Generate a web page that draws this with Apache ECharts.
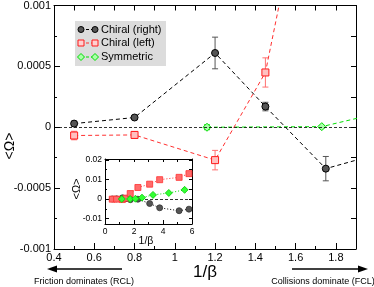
<!DOCTYPE html>
<html><head><meta charset="utf-8">
<script src="https://cdn.jsdelivr.net/npm/echarts@6/dist/echarts.min.js"></script>
<style>html,body{margin:0;padding:0;background:#fff}#c{width:374px;height:287px}</style>
</head><body><div id="c"></div>
<script>
// ---- data ----
const rightX = [0.5, 0.8, 1.2, 1.45, 1.75, 2.27, 3.08, 3.77, 5.11, 5.79];
const rightY = [0.00003, 0.00008, 0.00061, 0.00017, -0.00034, -0.0001, -0.0023, -0.0045, -0.006, -0.0052];
const rightErr = [0.00002, 0.000012, 0.00013, 0.000035, 0.0001, 0, 0, 0, 0, 0];
const leftX = [0.5, 0.8, 1.2, 1.45, 1.74, 2.27, 3.08, 3.77, 5.11, 5.79];
const leftY = [-0.000068, -0.000063, -0.00027, 0.00045, 0.0028, 0.0059, 0.0076, 0.0099, 0.0111, 0.013];
const leftErr = [0.000035, 0.000028, 0.00008, 0.00012, 0, 0, 0, 0, 0, 0];
const symX = [1.16, 1.73, 2.1, 2.55, 3.31, 4.4, 5.49];
const symY = [0, 0.000005, 0.00015, 0.0007, 0.0021, 0.0031, 0.0047];
const symErr = [0.00002, 0.00001, 0, 0, 0, 0, 0];
const mainXMajor = [0.4, 0.6, 0.8, 1.0, 1.2, 1.4, 1.6, 1.8];
const mainXMinor = [0.5, 0.7, 0.9, 1.1, 1.3, 1.5, 1.7, 1.9];
const insetYMajor = [-0.01, 0, 0.01, 0.02];
const insetYMinor = [-0.005, 0.005, 0.015];
const names = ['Chiral (right)', 'Chiral (left)', 'Symmetric'];

const FONT = 'Liberation Sans';
const pts = (xs, ys) => xs.map((x, i) => [x, ys[i]]);
const errPts = (xs, ys, es) => xs.map((x, i) => [x, ys[i], es[i]]).filter(d => d[2] > 0);

function errSeries(data, color) {
  return {
    type: 'custom', xAxisIndex: 0, yAxisIndex: 0, z: 3, silent: true,
    data: data,
    renderItem: function (params, api) {
      const x = api.value(0), y = api.value(1), e = api.value(2);
      const p1 = api.coord([x, y - e]), p2 = api.coord([x, y + e]);
      const st = {stroke: color, lineWidth: 1};
      return {type: 'group', children: [
        {type: 'line', shape: {x1: p1[0], y1: p1[1], x2: p2[0], y2: p2[1]}, style: st},
        {type: 'line', shape: {x1: p1[0] - 3, y1: p1[1], x2: p1[0] + 3, y2: p1[1]}, style: st},
        {type: 'line', shape: {x1: p2[0] - 3, y1: p2[1], x2: p2[0] + 3, y2: p2[1]}, style: st}
      ]};
    }
  };
}

const axisLineStyle = {show: true, onZero: false, lineStyle: {color: '#000', width: 1}};
const noLine = {show: false, onZero: false};
const chart = echarts.init(document.getElementById('c'), null, {renderer: 'canvas'});
const option = {
  animation: false,
  backgroundColor: '#fff',
  textStyle: {fontFamily: FONT},
  grid: [
    {left: 54, right: 18, top: 5, bottom: 38},
    {left: 105, top: 159, width: 87, height: 65, show: true, backgroundColor: '#fff', borderWidth: 0, z: 5}
  ],
  xAxis: [
    {gridIndex: 0, type: 'value', position: 'bottom', min: 0.4, max: 1.9,
     axisLine: axisLineStyle,
     axisTick: {inside: true, length: 6, customValues: mainXMajor, lineStyle: {color: '#000'}},
     axisLabel: {customValues: mainXMajor, fontSize: 11, color: '#000', margin: 3, fontFamily: FONT},
     splitLine: {show: false}},
    {gridIndex: 0, type: 'value', position: 'top', min: 0.4, max: 1.9, interval: 0.1,
     axisLine: axisLineStyle,
     axisTick: {inside: true, length: 5, lineStyle: {color: '#000'}},
     axisLabel: {show: false}, splitLine: {show: false}},
    {gridIndex: 0, type: 'value', position: 'bottom', min: 0.4, max: 1.9,
     axisLine: noLine,
     axisTick: {inside: true, length: 3, customValues: mainXMinor, lineStyle: {color: '#000'}},
     axisLabel: {show: false}, splitLine: {show: false}},
    {gridIndex: 1, type: 'value', position: 'bottom', min: 0, max: 6, interval: 2,
     axisLine: axisLineStyle,
     axisTick: {inside: true, length: 4, lineStyle: {color: '#000'}},
     minorTick: {show: true, splitNumber: 2, length: 2, lineStyle: {color: '#000'}},
     axisLabel: {fontSize: 8.5, color: '#000', margin: 3, fontFamily: FONT},
     splitLine: {show: false}, minorSplitLine: {show: false}, z: 6},
    {gridIndex: 1, type: 'value', position: 'top', min: 0, max: 6, interval: 1,
     axisLine: axisLineStyle,
     axisTick: {inside: true, length: 3, lineStyle: {color: '#000'}},
     axisLabel: {show: false}, splitLine: {show: false}, z: 6}
  ],
  yAxis: [
    {gridIndex: 0, type: 'value', position: 'left', min: -0.001, max: 0.001, interval: 0.0005,
     axisLine: axisLineStyle,
     axisTick: {inside: true, length: 6, lineStyle: {color: '#000'}},
     minorTick: {show: true, splitNumber: 2, length: 3, lineStyle: {color: '#000'}},
     axisLabel: {fontSize: 11, color: '#000', margin: 3, fontFamily: FONT},
     splitLine: {show: false}, minorSplitLine: {show: false}},
    {gridIndex: 0, type: 'value', position: 'right', min: -0.001, max: 0.001, interval: 0.00025,
     axisLine: axisLineStyle,
     axisTick: {inside: true, length: 5, lineStyle: {color: '#000'}},
     axisLabel: {show: false}, splitLine: {show: false}},
    {gridIndex: 1, type: 'value', position: 'left', min: -0.0128, max: 0.0205,
     axisLine: axisLineStyle,
     axisTick: {inside: true, length: 4, customValues: insetYMajor, lineStyle: {color: '#000'}},
     axisLabel: {customValues: insetYMajor, fontSize: 8.5, color: '#000', margin: 3, fontFamily: FONT},
     splitLine: {show: false}, z: 6},
    {gridIndex: 1, type: 'value', position: 'left', min: -0.0128, max: 0.0205,
     axisLine: noLine,
     axisTick: {inside: true, length: 2, customValues: insetYMinor, lineStyle: {color: '#000'}},
     axisLabel: {show: false}, splitLine: {show: false}, z: 6},
    {gridIndex: 1, type: 'value', position: 'right', min: -0.0128, max: 0.0205,
     axisLine: axisLineStyle,
     axisTick: {inside: true, length: 3, customValues: insetYMajor.concat(insetYMinor), lineStyle: {color: '#000'}},
     axisLabel: {show: false}, splitLine: {show: false}, z: 6}
  ],
  series: [
    errSeries(errPts(rightX, rightY, rightErr), '#555'),
    errSeries(errPts(leftX, leftY, leftErr), '#ff7070'),
    errSeries(errPts(symX, symY, symErr), '#00dd00'),
    {name: names[0], type: 'line', xAxisIndex: 0, yAxisIndex: 0, data: pts(rightX, rightY), z: 4,
     symbol: 'circle', symbolSize: 7, lineStyle: {color: '#000', width: 1, type: [4, 3]},
     itemStyle: {color: '#555', borderColor: '#000', borderWidth: 1},
     markLine: {silent: true, symbol: 'none', label: {show: false},
       lineStyle: {color: '#000', width: 0.8, type: [3, 2]}, data: [{yAxis: 0}]}},
    {name: names[1], type: 'line', xAxisIndex: 0, yAxisIndex: 0, data: pts(leftX, leftY), z: 4,
     symbol: 'rect', symbolSize: 7, lineStyle: {color: '#ff3030', width: 1, type: [4, 3]},
     itemStyle: {color: '#ffc0c0', borderColor: '#ff1a1a', borderWidth: 1}},
    {name: names[2], type: 'line', xAxisIndex: 0, yAxisIndex: 0, data: pts(symX, symY), z: 4,
     symbol: 'diamond', symbolSize: 8, lineStyle: {color: '#00dd00', width: 1, type: [4, 3]},
     itemStyle: {color: '#aaffaa', borderColor: '#00dd00', borderWidth: 1}},
    // inset
    {type: 'line', xAxisIndex: 3, yAxisIndex: 2, data: pts(rightX, rightY), z: 7,
     symbol: 'circle', symbolSize: 6, lineStyle: {color: '#000', width: 1, type: [1, 2]},
     itemStyle: {color: '#555', borderColor: '#333', borderWidth: 0.8},
     markLine: {silent: true, symbol: 'none', label: {show: false},
       lineStyle: {color: '#000', width: 0.8, type: [3, 2]}, data: [{yAxis: 0}]}},
    {type: 'line', xAxisIndex: 3, yAxisIndex: 2, data: pts(leftX, leftY), z: 7,
     symbol: 'rect', symbolSize: 6, lineStyle: {color: '#ff3030', width: 1, type: [1, 2]},
     itemStyle: {color: '#ff6b6b', borderColor: '#ff3030', borderWidth: 0.8}},
    {type: 'line', xAxisIndex: 3, yAxisIndex: 2, data: pts(symX, symY), z: 7,
     symbol: 'diamond', symbolSize: 7, lineStyle: {color: '#00dd00', width: 1, type: [1, 2]},
     itemStyle: {color: '#33ff33', borderColor: '#00cc00', borderWidth: 0.8}}
  ],
  graphic: [
    // legend
    {type: 'rect', shape: {x: 75, y: 21, width: 91, height: 45}, style: {fill: '#dcdcdc'}, z: 10},
    {type: 'line', shape: {x1: 81, y1: 29.5, x2: 95, y2: 29.5}, style: {stroke: '#000', lineWidth: 1, lineDash: [3, 2]}, z: 11},
    {type: 'circle', shape: {cx: 81, cy: 29.5, r: 3}, style: {fill: '#555', stroke: '#000', lineWidth: 1}, z: 12},
    {type: 'circle', shape: {cx: 95, cy: 29.5, r: 3}, style: {fill: '#555', stroke: '#000', lineWidth: 1}, z: 12},
    {type: 'text', x: 101, y: 29.5, style: {text: names[0], fontSize: 11, fontFamily: FONT, fill: '#000', verticalAlign: 'middle'}, z: 12},
    {type: 'line', shape: {x1: 81, y1: 43, x2: 95, y2: 43}, style: {stroke: '#ff3030', lineWidth: 1, lineDash: [3, 2]}, z: 11},
    {type: 'rect', shape: {x: 78, y: 40, width: 6, height: 6}, style: {fill: '#ffd0d0', stroke: '#ff1a1a', lineWidth: 1}, z: 12},
    {type: 'rect', shape: {x: 92, y: 40, width: 6, height: 6}, style: {fill: '#ffd0d0', stroke: '#ff1a1a', lineWidth: 1}, z: 12},
    {type: 'text', x: 101, y: 43, style: {text: names[1], fontSize: 11, fontFamily: FONT, fill: '#000', verticalAlign: 'middle'}, z: 12},
    {type: 'line', shape: {x1: 81, y1: 57, x2: 95, y2: 57}, style: {stroke: '#00dd00', lineWidth: 1, lineDash: [3, 2]}, z: 11},
    {type: 'polygon', shape: {points: [[81, 53.5], [84.5, 57], [81, 60.5], [77.5, 57]]}, style: {fill: '#aaffaa', stroke: '#00dd00', lineWidth: 1}, z: 12},
    {type: 'polygon', shape: {points: [[95, 53.5], [98.5, 57], [95, 60.5], [91.5, 57]]}, style: {fill: '#aaffaa', stroke: '#00dd00', lineWidth: 1}, z: 12},
    {type: 'text', x: 101, y: 57, style: {text: names[2], fontSize: 11, fontFamily: FONT, fill: '#000', verticalAlign: 'middle'}, z: 12},
    // axis names
    {type: 'text', x: 10, y: 146, rotation: Math.PI / 2, style: {text: '<Ω>', fontSize: 14, fontFamily: FONT, fill: '#000', align: 'center', verticalAlign: 'middle'}},
    {type: 'text', x: 205, y: 272, style: {text: '1/β', fontSize: 17, fontFamily: FONT, fill: '#000', align: 'center', verticalAlign: 'middle'}},
    {type: 'text', x: 77, y: 189, rotation: Math.PI / 2, style: {text: '<Ω>', fontSize: 11, fontFamily: FONT, fill: '#000', align: 'center', verticalAlign: 'middle'}, z: 12},
    {type: 'text', x: 146, y: 241, style: {text: '1/β', fontSize: 10.5, fontFamily: FONT, fill: '#000', align: 'center', verticalAlign: 'middle'}, z: 12},
    // arrows
    {type: 'line', shape: {x1: 122, y1: 269, x2: 54, y2: 269}, style: {stroke: '#000', lineWidth: 1.5}},
    {type: 'polygon', shape: {points: [[47, 269], [57, 265.5], [57, 272.5]]}, style: {fill: '#000'}},
    {type: 'line', shape: {x1: 292, y1: 269, x2: 361, y2: 269}, style: {stroke: '#000', lineWidth: 1.5}},
    {type: 'polygon', shape: {points: [[368, 269], [358, 265.5], [358, 272.5]]}, style: {fill: '#000'}},
    {type: 'text', x: 84, y: 282, style: {text: 'Friction dominates (RCL)', fontSize: 9, fontFamily: FONT, fill: '#000', align: 'center', verticalAlign: 'middle'}},
    {type: 'text', x: 323, y: 282, style: {text: 'Collisions dominate (FCL)', fontSize: 9, fontFamily: FONT, fill: '#000', align: 'center', verticalAlign: 'middle'}}
  ]
};
chart.setOption(option);
</script></body></html>
